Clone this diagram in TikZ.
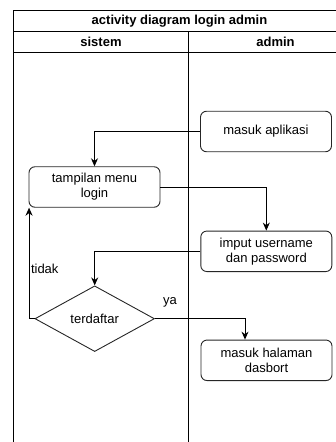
\documentclass[tikz,border=0pt]{standalone}
\usepackage{fontspec}
\setmainfont{Liberation Sans}
\usetikzlibrary{shapes.geometric,arrows.meta,calc}
\begin{document}
\begin{tikzpicture}[x=1pt,y=-1pt,
  frameline/.style={draw=black,line width=0.9pt},
  actbox/.style={draw=black!85,line width=0.9pt,rounded corners=6pt,minimum width=131pt,minimum height=40.5pt,inner sep=0pt,align=center,font=\fontsize{13}{15}\selectfont},
  decbox/.style={draw=black!85,line width=0.9pt,shape=diamond,minimum width=119.5pt,minimum height=65.7pt,inner sep=0pt,font=\fontsize{13}{15}\selectfont},
  flow/.style={draw=black,line width=0.9pt,-{Stealth[length=8pt,width=7pt]}},
  hdr/.style={font=\bfseries\fontsize{13}{15}\selectfont,inner sep=0pt},
  lbl/.style={font=\fontsize{13}{15}\selectfont,inner sep=0pt}]
\useasboundingbox (0,0) rectangle (336,442);
% pool frame
\coordinate (tl) at (13.5,10);
\coordinate (tr) at (336,10);
\coordinate (bl) at (13.5,442);
\draw[frameline] (bl) -- (tl) -- (tr);
\coordinate (s1l) at (13.5,31.5);
\coordinate (s1r) at (336,31.5);
\draw[frameline] (s1l) -- (s1r);
\coordinate (s2l) at (13.5,52.7);
\coordinate (s2r) at (336,52.7);
\draw[frameline] (s2l) -- (s2r);
\coordinate (dvt) at (188,31.5);
\coordinate (dvb) at (188,442);
\draw[frameline] (dvt) -- (dvb);
% headers
\node[hdr] (title) at (179.5,20.8) {activity diagram login admin};
\node[hdr] (sistem) at (101,42.2) {sistem};
\node[hdr] (admin) at (275.5,42.2) {admin};
% activities
\node[actbox] (app) at (266,131.5) {masuk aplikasi};
\node[actbox] (menu) at (94.5,187) {tampilan menu\\login};
\node[actbox] (input) at (266.3,251.3) {imput username\\dan password};
\node[decbox] (dec) at (94.7,318.7) {terdaftar};
\node[actbox] (dash) at (266.5,360.3) {masuk halaman\\dasbort};
% connectors
\draw[flow] (app.west) -| (menu.north);
\draw[flow] (menu.east) -| (input.north);
\draw[flow] (input.west) -| (dec.north);
\coordinate (menub) at ($(menu.south west)+(0.5,0)$);
\draw[flow] (dec.west) -| (menub);
\coordinate (dashn) at ($(dash.north)+(-21.5,0)$);
\draw[flow] (dec.east) -| (dashn);
% labels
\node[lbl,anchor=west] (tidak) at (30.8,268.5) {tidak};
\node[lbl] (ya) at (170,302) {ya};
\end{tikzpicture}
\end{document}
